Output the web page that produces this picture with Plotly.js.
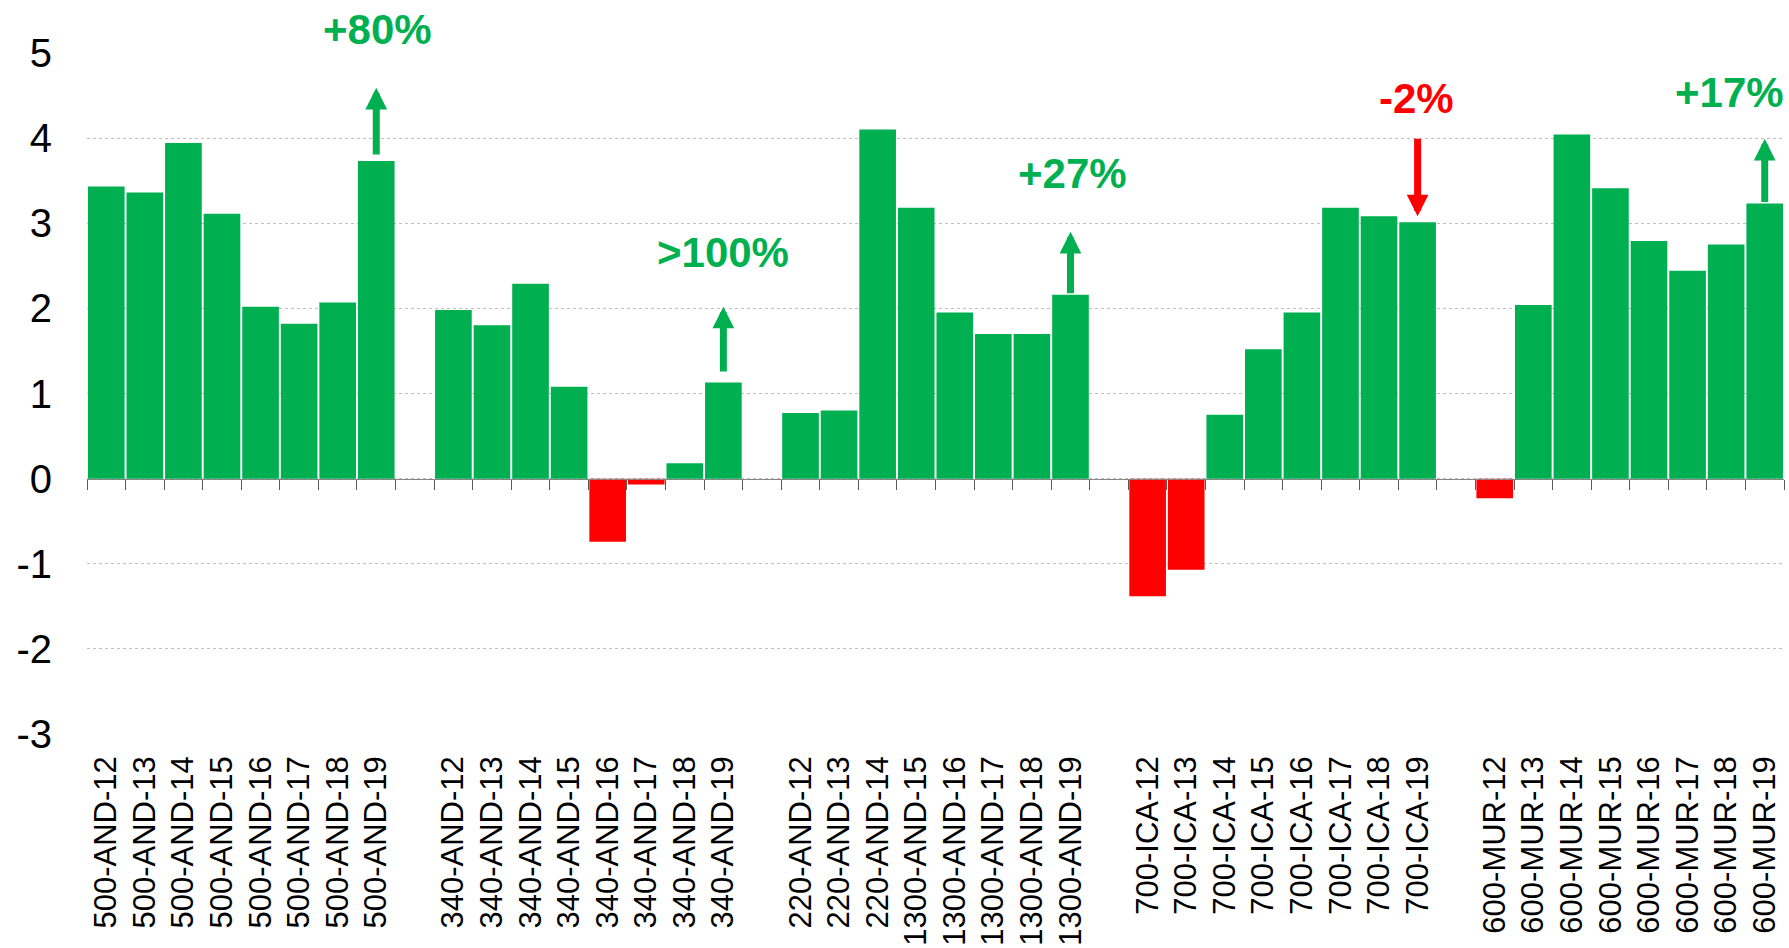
<!DOCTYPE html>
<html>
<head>
<meta charset="utf-8">
<script src="https://cdn.plot.ly/plotly-3.0.1.min.js"></script>
<style>
  html, body { margin: 0; padding: 0; background: #ffffff; }
  #chart { width: 1789px; height: 948px; }
</style>
</head>
<body>
<div id="chart"></div>
<script>
// ---- data ----
const categories = [
  '500-AND-12','500-AND-13','500-AND-14','500-AND-15','500-AND-16','500-AND-17','500-AND-18','500-AND-19',
  'gap1',
  '340-AND-12','340-AND-13','340-AND-14','340-AND-15','340-AND-16','340-AND-17','340-AND-18','340-AND-19',
  'gap2',
  '220-AND-12','220-AND-13','220-AND-14','1300-AND-15','1300-AND-16','1300-AND-17','1300-AND-18','1300-AND-19',
  'gap3',
  '700-ICA-12','700-ICA-13','700-ICA-14','700-ICA-15','700-ICA-16','700-ICA-17','700-ICA-18','700-ICA-19',
  'gap4',
  '600-MUR-12','600-MUR-13','600-MUR-14','600-MUR-15','600-MUR-16','600-MUR-17','600-MUR-18','600-MUR-19'
];
const values = [
  3.43, 3.36, 3.94, 3.11, 2.02, 1.82, 2.07, 3.73,
  null,
  1.98, 1.80, 2.29, 1.08, -0.74, -0.07, 0.18, 1.13,
  null,
  0.77, 0.80, 4.10, 3.18, 1.95, 1.70, 1.70, 2.16,
  null,
  -1.38, -1.07, 0.75, 1.52, 1.95, 3.18, 3.08, 3.01,
  null,
  -0.23, 2.04, 4.04, 3.41, 2.79, 2.44, 2.75, 3.23
];
const tickLabels = categories.filter(c => !c.startsWith('gap'));
const yTickVals = [-3, -2, -1, 0, 1, 2, 3, 4, 5];
const yTickText = ['-3', '-2', '-1', '0', '1', '2', '3', '4', '5'];

const callouts = [
  {cat: '500-AND-19', label: '+80%',  dir: 'up'},
  {cat: '340-AND-19', label: '>100%', dir: 'up'},
  {cat: '1300-AND-19', label: '+27%', dir: 'up'},
  {cat: '700-ICA-19', label: '-2%',   dir: 'down'},
  {cat: '600-MUR-19', label: '+17%',  dir: 'up'}
];

// ---- styling ----
const GREEN = '#00B050';
const RED = '#FF0000';
const barColors = values.map(v => (v !== null && v < 0) ? RED : GREEN);

// layout-only placement for the callouts (text y + pixel shift, arrow tip y, arrow tail y, text x shift)
const calloutPlacement = {
  '500-AND-19':  {ty: 5.0, ys: 23, tip: 4.59, tail: 3.79, xs: 1},
  '340-AND-19':  {ty: 2.66, ys: 0, tip: 2.02, tail: 1.24, xs: 0},
  '1300-AND-19': {ty: 3.58, ys: 0, tip: 2.90, tail: 2.16, xs: 2},
  '700-ICA-19':  {ty: 4.46, ys: 0, tip: 3.08, tail: 4.01, xs: -1},
  '600-MUR-19':  {ty: 4.53, ys: 0, tip: 3.99, tail: 3.23, xs: -35}
};

const annotations = [];
callouts.forEach(c => {
  const p = calloutPlacement[c.cat];
  const col = c.dir === 'up' ? GREEN : RED;
  annotations.push({
    x: c.cat, y: p.ty, xref: 'x', yref: 'y',
    text: '<b>' + c.label + '</b>', showarrow: false,
    xshift: p.xs, yshift: p.ys,
    font: {family: 'Liberation Sans, Arial, sans-serif', size: 42, color: col},
    xanchor: 'center', yanchor: 'middle'
  });
  annotations.push({
    x: c.cat, y: p.tip, xref: 'x', yref: 'y',
    ax: 0, ay: p.tail, axref: 'pixel', ayref: 'y',
    text: '', showarrow: true,
    arrowhead: 2, arrowsize: 0.62, arrowwidth: 7, arrowcolor: col
  });
});

const boundaries = [];
for (let i = 0; i <= categories.length; i++) boundaries.push(i - 0.5);

const traces = [
  {
    type: 'bar', x: categories, y: values,
    marker: {color: barColors, line: {width: 0}},
    hoverinfo: 'x+y', showlegend: false
  },
  {
    type: 'scatter', mode: 'markers', xaxis: 'x2', yaxis: 'y',
    x: boundaries, y: boundaries.map(() => null),
    hoverinfo: 'skip', showlegend: false
  }
];

const layout = {
  width: 1789, height: 948,
  margin: {l: 87, r: 5, t: 52, b: 213, pad: 0},
  paper_bgcolor: '#ffffff', plot_bgcolor: '#ffffff',
  bargap: 0.05,
  showlegend: false,
  font: {family: 'Liberation Sans, Arial, sans-serif', color: '#000000'},
  xaxis: {
    type: 'category',
    categoryorder: 'array', categoryarray: categories,
    range: [-0.5, categories.length - 0.5],
    tickmode: 'array', tickvals: tickLabels, ticktext: tickLabels,
    tickangle: -90,
    tickfont: {size: 31, color: '#000000'},
    ticks: '', showgrid: false, zeroline: false, showline: false,
    ticklabelstandoff: 14,
    fixedrange: true
  },
  xaxis2: {
    overlaying: 'x', anchor: 'free', position: 3.01 / 8.02,
    range: [-0.5, categories.length - 0.5],
    tickmode: 'array', tickvals: boundaries,
    ticks: 'outside', ticklen: 10, tickwidth: 1, tickcolor: '#595959',
    showticklabels: false, showgrid: false, zeroline: false,
    showline: true, linecolor: '#868686', linewidth: 1.5,
    fixedrange: true
  },
  yaxis: {
    range: [-3.01, 5.01],
    tickmode: 'array', tickvals: yTickVals, ticktext: yTickText,
    tickfont: {size: 40, color: '#000000'},
    showgrid: true, gridcolor: '#BFBFBF', gridwidth: 1, griddash: 'dot',
    zeroline: false, showline: false, ticks: '',
    ticklabelstandoff: 34,
    fixedrange: true
  },
  annotations: annotations
};

Plotly.newPlot('chart', traces, layout, {displayModeBar: false, staticPlot: true});
</script>
</body>
</html>
